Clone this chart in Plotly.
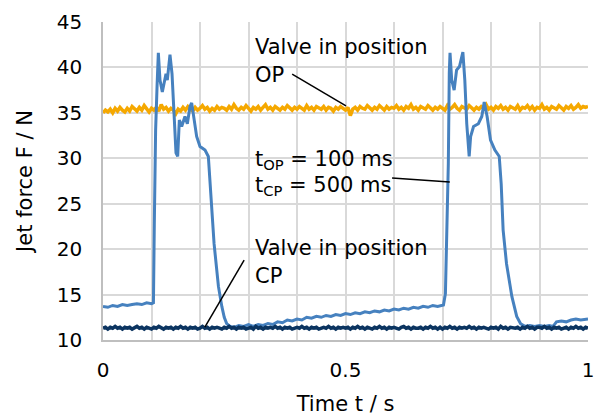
import plotly.graph_objects as go

# ---- data ----
# Valve in position OP (constant ~35.5 N, noisy), sampled every 0.005 s
op_force = [35.0, 35.3, 35.1, 35.4, 35.0, 35.5, 35.2, 35.6, 35.3, 35.1,
            35.5, 35.2, 35.7, 35.4, 35.2, 35.6, 35.3, 35.8, 35.4, 35.1,
            35.5, 35.3, 35.6, 35.2, 35.9, 35.4, 35.6, 35.2, 35.5, 35.3,
            34.9, 35.4, 35.2, 35.6, 35.3, 35.7, 35.4, 35.2, 35.6, 35.3,
            35.5, 35.8, 35.4, 35.6, 35.2, 35.5, 35.3, 35.7, 35.4, 35.6,
            35.5, 35.3, 35.7, 35.4, 35.9, 35.5, 35.3, 35.6, 35.4, 35.8,
            35.5, 35.2, 35.6, 35.4, 35.7, 35.3, 35.6, 35.9, 35.4, 35.6,
            35.3, 35.7, 35.5, 35.3, 35.6, 35.4, 35.8, 35.5, 35.3, 35.6,
            35.4, 35.7, 35.5, 35.3, 35.8, 35.4, 35.6, 35.3, 35.7, 35.5,
            35.4, 35.7, 35.3, 35.6, 35.5, 35.2, 35.6, 35.4, 35.7, 35.5,
            35.3, 35.6, 34.7, 35.4, 35.6, 35.3, 35.7, 35.5, 35.4, 35.8,
            35.5, 35.3, 35.6, 35.4, 35.8, 35.5, 35.3, 35.7, 35.4, 35.6,
            35.5, 35.8, 35.4, 35.6, 35.3, 35.7, 35.5, 35.9, 35.4, 35.6,
            35.3, 35.7, 35.5, 35.4, 35.8, 35.5, 35.3, 35.6, 35.4, 35.7,
            35.5, 35.3, 35.8, 35.4, 35.6, 35.9, 35.5, 35.3, 35.7, 35.5,
            35.4, 35.8, 35.5, 35.3, 35.6, 35.4, 35.7, 35.5, 35.9, 35.4,
            35.6, 35.3, 35.7, 35.5, 35.8, 35.4, 35.6, 35.3, 35.7, 35.5,
            35.4, 35.8, 35.3, 35.6, 35.5, 35.8, 35.4, 35.7, 35.3, 35.6,
            35.5, 35.9, 35.4, 35.6, 35.3, 35.7, 35.5, 35.4, 35.8, 35.5,
            35.3, 35.7, 35.5, 35.8, 35.4, 35.6, 35.9, 35.5, 35.7, 35.6,
            35.7]
op_time = [i / (len(op_force) - 1) for i in range(len(op_force))]

# Valve in position CP (constant ~11.35 N, noisy), sampled every 0.005 s
cp_force = [11.3, 11.4, 11.2, 11.4, 11.3, 11.5, 11.3, 11.4, 11.2, 11.4,
            11.3, 11.4, 11.2, 11.4, 11.5, 11.3, 11.4, 11.2, 11.4, 11.3,
            11.2, 11.4, 11.3, 11.5, 11.3, 11.2, 11.4, 11.3, 11.4, 11.2,
            11.4, 11.3, 11.5, 11.3, 11.4, 11.2, 11.4, 11.3, 11.4, 11.2,
            11.3, 11.5, 11.3, 11.4, 11.2, 11.4, 11.3, 11.4, 11.3, 11.2,
            11.4, 11.3, 11.5, 11.3, 11.4, 11.2, 11.4, 11.3, 11.4, 11.2,
            11.3, 11.4, 11.2, 11.5, 11.3, 11.4, 11.2, 11.4, 11.3, 11.4,
            11.3, 11.5, 11.3, 11.4, 11.2, 11.4, 11.3, 11.4, 11.2, 11.3,
            11.4, 11.3, 11.5, 11.3, 11.4, 11.2, 11.4, 11.3, 11.4, 11.2,
            11.3, 11.4, 11.3, 11.5, 11.3, 11.4, 11.2, 11.4, 11.3, 11.4,
            11.3, 11.4, 11.2, 11.4, 11.3, 11.5, 11.3, 11.4, 11.2, 11.4,
            11.3, 11.2, 11.4, 11.3, 11.5, 11.3, 11.4, 11.2, 11.4, 11.3,
            11.4, 11.3, 11.2, 11.4, 11.5, 11.3, 11.4, 11.2, 11.4, 11.3,
            11.3, 11.4, 11.2, 11.4, 11.3, 11.5, 11.3, 11.4, 11.2, 11.4,
            11.2, 11.4, 11.3, 11.5, 11.3, 11.4, 11.2, 11.4, 11.3, 11.4,
            11.3, 11.5, 11.3, 11.4, 11.2, 11.4, 11.3, 11.4, 11.3, 11.2,
            11.4, 11.3, 11.4, 11.2, 11.5, 11.3, 11.4, 11.2, 11.4, 11.3,
            11.3, 11.4, 11.2, 11.4, 11.3, 11.5, 11.3, 11.4, 11.2, 11.4,
            11.4, 11.3, 11.5, 11.3, 11.4, 11.2, 11.4, 11.3, 11.4, 11.2,
            11.3, 11.4, 11.2, 11.4, 11.3, 11.5, 11.3, 11.4, 11.2, 11.4,
            11.3]
cp_time = [i / (len(cp_force) - 1) for i in range(len(cp_force))]

# Pulsed valve (t_OP = 100 ms, t_CP = 500 ms)
pulse_time = [0.00, 0.01, 0.02, 0.03, 0.04, 0.05, 0.06, 0.07, 0.08, 0.09,
              0.100, 0.104, 0.1058, 0.1085, 0.1115, 0.1141, 0.1175, 0.1223,
              0.1299, 0.1326, 0.1381, 0.1423, 0.1464, 0.1505, 0.154, 0.1574,
              0.1622, 0.169, 0.1739, 0.1794, 0.1828, 0.1876, 0.1931, 0.200,
              0.2103, 0.2172, 0.224, 0.229, 0.234, 0.238, 0.245, 0.250, 0.255,
              0.262, 0.27, 0.28, 0.29, 0.30, 0.31, 0.32, 0.33, 0.34, 0.35,
              0.36, 0.37, 0.38, 0.39, 0.40, 0.41, 0.42, 0.43, 0.44, 0.45,
              0.46, 0.47, 0.48, 0.49, 0.50, 0.51, 0.52, 0.53, 0.54, 0.55,
              0.56, 0.57, 0.58, 0.59, 0.60, 0.61, 0.62, 0.63, 0.64, 0.65,
              0.66, 0.67, 0.68, 0.69,
              0.702, 0.706, 0.709, 0.712, 0.714, 0.7155, 0.719, 0.724, 0.729,
              0.735, 0.742, 0.746, 0.750, 0.755, 0.758, 0.764, 0.774, 0.781,
              0.786, 0.792, 0.799, 0.808, 0.817, 0.821, 0.825, 0.832, 0.843,
              0.853, 0.861, 0.87, 0.88, 0.89, 0.90, 0.91, 0.92, 0.928, 0.935,
              0.945, 0.955, 0.965, 0.975, 0.985, 1.00]
pulse_force = [13.7, 13.6, 13.8, 13.7, 13.9, 13.8, 13.9, 14.0, 13.9, 14.1,
               14.0, 14.1, 22.8, 33.1, 38.0, 41.6, 38.6, 37.3,
               39.3, 38.6, 41.4, 39.3, 35.0, 30.6, 30.2, 34.2,
               33.5, 34.6, 33.8, 35.7, 36.1, 34.6, 32.4, 31.3,
               30.9, 30.2, 25.0, 20.6, 18.0, 15.9, 13.7, 12.5, 11.8,
               11.5, 11.4, 11.6, 11.5, 11.7, 11.5, 11.7, 11.6, 11.8, 11.7,
               12.0, 11.9, 12.2, 12.1, 12.3, 12.2, 12.5, 12.4, 12.6, 12.5,
               12.7, 12.6, 12.8, 12.7, 12.9, 12.8, 13.0, 12.9, 13.1, 13.0,
               13.2, 13.1, 13.3, 13.2, 13.4, 13.3, 13.5, 13.4, 13.6, 13.5,
               13.7, 13.6, 13.8, 13.7,
               13.85, 15.1, 22.1, 29.4, 39.4, 41.6, 38.6, 37.5, 39.7,
               40.1, 41.7, 38.6, 33.8, 30.2, 32.4, 33.5, 33.8, 34.6,
               36.2, 34.6, 32.0, 30.9, 30.2, 27.2, 22.1, 18.4, 14.8,
               12.6, 11.8, 11.5, 11.6, 11.5, 11.6, 11.5, 11.6, 11.5, 12.0,
               12.1, 12.0, 12.2, 12.3, 12.2, 12.3]

x_tickvals = [0, 0.5, 1.0]
x_ticktext = ["0", "0.5", "1"]
x_minor_step = 0.1
y_tickvals = [10, 15, 20, 25, 30, 35, 40, 45]

FONT = "DejaVu Sans"
BLACK = "#000000"
ORANGE = "#F5A800"
BLUE = "#4681BF"
NAVY = "#0B3460"
GRID = "#d9d9d9"

fig = go.Figure()
fig.add_trace(go.Scatter(x=op_time, y=op_force, mode="lines",
                         line=dict(color=ORANGE, width=3.5), showlegend=False))
fig.add_trace(go.Scatter(x=pulse_time, y=pulse_force, mode="lines",
                         line=dict(color=BLUE, width=3), showlegend=False))
fig.add_trace(go.Scatter(x=cp_time, y=cp_force, mode="lines",
                         line=dict(color=NAVY, width=3.5), showlegend=False))

fig.update_layout(
    width=598, height=416,
    margin=dict(l=103, r=10, t=22, b=76, autoexpand=False),
    paper_bgcolor="white", plot_bgcolor="white",
    font=dict(family=FONT, size=20, color=BLACK),
    xaxis=dict(range=[0, 1], tickvals=x_tickvals, ticktext=x_ticktext,
               showgrid=True, gridcolor=GRID, gridwidth=1.5,
               minor=dict(tick0=0, dtick=x_minor_step, showgrid=True,
                          gridcolor=GRID, gridwidth=1.5, ticks=""),
               showline=True, linecolor="#bfbfbf", linewidth=1.5,
               zeroline=False, ticks="", ticklabelstandoff=11, automargin=False,
               tickfont=dict(family=FONT, size=20, color=BLACK),
               title=dict(text="Time t / s", standoff=16,
                          font=dict(family=FONT, size=21, color=BLACK))),
    yaxis=dict(range=[10, 45], tickvals=y_tickvals,
               showgrid=True, gridcolor=GRID, gridwidth=1.5,
               showline=True, linecolor="#bfbfbf", linewidth=1.5,
               zeroline=False, ticks="", ticklabelstandoff=15, automargin=False,
               tickfont=dict(family=FONT, size=20, color=BLACK),
               title=dict(text="Jet force F / N", standoff=18,
                          font=dict(family=FONT, size=21, color=BLACK))),
)

def label(text, x, y):
    fig.add_annotation(text=text, x=x, y=y, xref="x", yref="y",
                       xanchor="left", yanchor="middle", showarrow=False,
                       font=dict(family=FONT, size=21, color=BLACK))

label("Valve in position", 0.309, 42.3)
label("OP", 0.309, 39.2)
label("t<sub>OP</sub> = 100 ms", 0.309, 29.8)
label("t<sub>CP</sub> = 500 ms", 0.309, 26.9)
label("Valve in position", 0.309, 20.1)
label("CP", 0.309, 17.0)

for x0, y0, x1, y1 in [(0.390, 39.27, 0.501, 35.76),
                       (0.596, 27.83, 0.715, 27.39),
                       (0.291, 18.80, 0.210, 11.43)]:
    fig.add_shape(type="line", x0=x0, y0=y0, x1=x1, y1=y1, xref="x", yref="y",
                  line=dict(color="black", width=1.5))

fig.write_html("out.html",
               config={"displayModeBar": False},
               post_script="document.body.style.margin='0px';"
                           "document.body.style.overflow='hidden';")
